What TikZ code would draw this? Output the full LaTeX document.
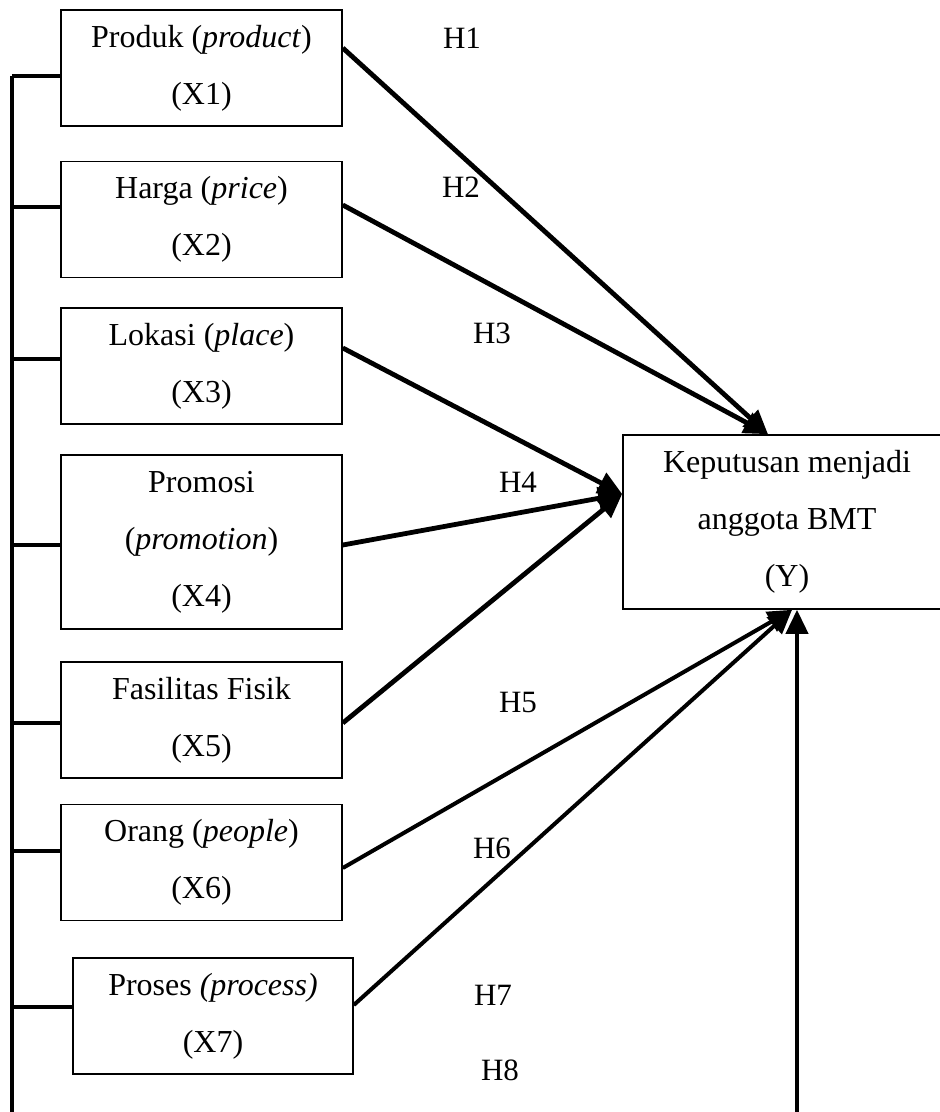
\documentclass[tikz,border=0pt]{standalone}
\usepackage{fontspec}
\setmainfont{Liberation Serif}
\usetikzlibrary{arrows.meta, calc}

\begin{document}
\begin{tikzpicture}[x=0.5pt, y=-0.5pt,
  var/.style={draw, line width=0.8pt, minimum width=140.5pt, minimum height=58pt,
    inner sep=0pt, align=center, font=\fontsize{16}{28.5}\selectfont},
  link/.style={line width=2.4pt, -{Triangle[length=12pt, width=11pt]}},
  bar/.style={line width=2.2pt},
  hyp/.style={inner sep=0pt, font=\fontsize{15.5}{18}\selectfont}]
\useasboundingbox (0,0) rectangle (940,1112);
% Independent variables
\node[var] (x1) at (201.5,68) {Produk (\textit{product})\\(X1)};
\node[var] (x2) at (201.5,219.5) {Harga (\textit{price})\\(X2)};
\node[var] (x3) at (201.5,366) {Lokasi (\textit{place})\\(X3)};
\node[var, minimum height=87pt] (x4) at (201.5,542) {Promosi\\(\textit{promotion})\\(X4)};
\node[var] (x5) at (201.5,720) {Fasilitas Fisik\\(X5)};
\node[var] (x6) at (201.5,862.5) {Orang (\textit{people})\\(X6)};
\node[var, minimum width=140pt] (x7) at (213,1016) {Proses \textit{(process)}\\(X7)};
% Dependent variable
\node[var, minimum width=164pt, minimum height=87pt] (y) at (787,522) {Keputusan menjadi\\anggota BMT\\(Y)};
% Left bar joining all the boxes
\coordinate (bartop) at (12,76);
\coordinate (barend) at (12,1116);
\draw[bar] (bartop) -- (barend);
\draw[bar] ($(x1.west)+(0,8)$) coordinate (t1) -- (t1 -| bartop);
\draw[bar] ($(x2.west)+(0,-12.5)$) coordinate (t2) -- (t2 -| bartop);
\draw[bar] ($(x3.west)+(0,-7)$) coordinate (t3) -- (t3 -| bartop);
\draw[bar] ($(x4.west)+(0,3)$) coordinate (t4) -- (t4 -| bartop);
\draw[bar] ($(x5.west)+(0,3)$) coordinate (t5) -- (t5 -| bartop);
\draw[bar] ($(x6.west)+(0,-11.5)$) coordinate (t6) -- (t6 -| bartop);
\draw[bar] ($(x7.west)+(0,-9)$) coordinate (t7) -- (t7 -| bartop);
% Hypothesis arrows
\draw[link] ($(x1.east)+(0,-20)$) -- ($(y.north)+(-19,0)$);
\draw[link] ($(x2.east)+(0,-14.5)$) -- ($(y.north)+(-19,0)$);
\draw[link] ($(x3.east)+(0,-18)$) -- ($(y.west)+(0,-28)$);
\draw[link] ($(x4.east)+(0,3)$) -- ($(y.west)+(0,-28)$);
\draw[link] ($(x5.east)+(0,3)$) -- ($(y.west)+(0,-28)$);
\draw[link, line width=2pt] ($(x6.east)+(0,5.5)$) -- ($(y.south)+(5,0)$);
\draw[link, line width=2pt] ($(x7.east)+(0,-11)$) -- ($(y.south)+(5,0)$);
% Simultaneous effect from the bar
\coordinate (joint) at (797,1116);
\draw[link, line width=2pt] (joint) -- ($(y.south)+(10,0)$);
% Hypothesis labels
\node[hyp] (h1) at (462,38) {H1};
\node[hyp] (h2) at (461,187) {H2};
\node[hyp] (h3) at (492,333) {H3};
\node[hyp] (h4) at (518,482) {H4};
\node[hyp] (h5) at (518,702) {H5};
\node[hyp] (h6) at (492,848) {H6};
\node[hyp] (h7) at (493,995) {H7};
\node[hyp] (h8) at (500,1070) {H8};
\end{tikzpicture}
\end{document}
